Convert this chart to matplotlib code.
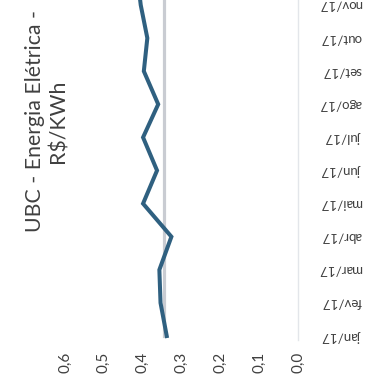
import matplotlib
matplotlib.use("Agg")
import matplotlib.pyplot as plt
from matplotlib.ticker import FuncFormatter

plt.rcParams['font.family'] = ['Lato', 'DejaVu Sans']

months = ["jan/17", "fev/17", "mar/17", "abr/17", "mai/17", "jun/17",
          "jul/17", "ago/17", "set/17", "out/17", "nov/17", "dez/17"]
ubc_values = [0.338, 0.354, 0.357, 0.326, 0.399, 0.363,
              0.399, 0.360, 0.397, 0.388, 0.405, 0.415]
reference_values = [0.345] * len(months)
value_ticks = [0.0, 0.1, 0.2, 0.3, 0.4, 0.5, 0.6]
title = "UBC - Energia Elétrica -\nR$/KWh"

W, H = 387, 383
fig = plt.figure(figsize=(W / 100, H / 100), dpi=100)
fig.patch.set_facecolor("white")

left_px, right_px, top_px, bottom_px = 65, 298, 0, 340
ax = fig.add_axes([left_px / W, (H - bottom_px) / H,
                   (right_px - left_px) / W, (bottom_px - top_px) / H])
ax.set_facecolor("white")

idx = list(range(len(months)))
ax.plot(reference_values, idx, color="#C9CCD2", lw=2.3, zorder=2)
ax.plot(ubc_values, idx, color="#2F6080", lw=2.9, zorder=3,
        solid_joinstyle="miter")

for s in ["left", "top", "bottom"]:
    ax.spines[s].set_visible(False)
ax.spines["right"].set_color("#E3E6EA")
ax.spines["right"].set_linewidth(1.0)

ax.set_xticks(value_ticks)
ax.xaxis.set_major_formatter(FuncFormatter(lambda v, p: f"{v:.1f}".replace(".", ",")))
ax.tick_params(axis="x", length=0, pad=8.6, labelrotation=90,
               labelsize=11, labelcolor="#404040")

shown = idx[:11]
ax.yaxis.tick_right()
ax.set_yticks(shown)
ax.set_yticklabels(months[:11])
ax.tick_params(axis="y", length=0, pad=46, labelrotation=180,
               labelsize=9.5, labelcolor="#404040")
for lab in ax.get_yticklabels():
    lab.set_horizontalalignment("right")
    lab.set_verticalalignment("center")

ax.set_xlim(0.6, 0.0)
ax.set_ylim(-0.12, 10.15)

fig.text(47 / W, (H - 121) / H, title, rotation=90, ha="center", va="center",
         multialignment="center", fontsize=15.3, color="#404040",
         linespacing=1.2)

fig.savefig("out.png", dpi=100, facecolor="white")
